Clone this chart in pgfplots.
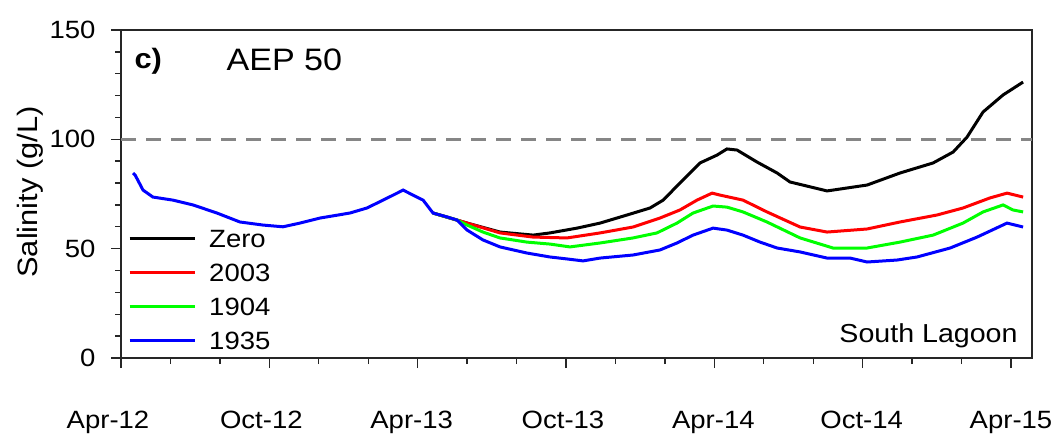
\documentclass[border=0pt]{standalone}
\usepackage{fontspec}
\setmainfont[FakeStretch=1.1]{Liberation Sans}
\usepackage{pgfplots}
\pgfplotsset{compat=1.18}
\newcommand\ff{\fontsize{25bp}{29bp}\selectfont}
\begin{document}
\begin{tikzpicture}
\useasboundingbox (0,0) rectangle (1051bp,434bp);
\begin{axis}[
  at={(121bp,76bp)}, anchor=south west,
  scale only axis, width=911bp, height=328bp,
  xmin=0, xmax=36.85, ymin=0, ymax=150,
  axis line style={line width=1.6bp, black!85},
  xtick={0,6,12,18,24,30,36},
  xticklabels={Apr-12,Oct-12,Apr-13,Oct-13,Apr-14,Oct-14,Apr-15},
  minor xtick={2,4,8,10,14,16,20,22,26,28,32,34},
  ytick={0,50,100,150},
  minor ytick={10,20,30,40,60,70,80,90,110,120,130,140},
  xtick pos=bottom, ytick pos=left,
  tick align=outside,
  major tick length=10bp, minor tick length=6bp,
  every tick/.style={line width=1.4bp, black!85},
  tick label style={font=\ff},
  /pgf/number format/assume math mode=true,
  xticklabel style={anchor=north, yshift=-40bp, xshift={{-13,-8,-6,-3,-1,-1,0}[\ticknum]*1bp}},
  yticklabel style={anchor=east, xshift=-12bp},
  ylabel={Salinity (g/L)},
  ylabel style={font=\fontsize{28bp}{32bp}\selectfont, at={(axis description cs:-0.0999,0.506)}, anchor=center},
  legend cell align=left,
  legend style={draw=none, fill=none, at={(axis description cs:0.0066,0.402)}, anchor=north west, font=\ff, row sep=12bp, column sep=11bp, inner sep=1bp,
    nodes={inner sep=2bp, text height=18bp, text depth=0bp}},
  legend image code/.code={\draw[#1, line width=3bp] (0bp,0bp) -- (65bp,0bp);},
  every axis plot/.append style={line width=3bp},
  clip=true,
]
\addplot[gray!95, dash pattern=on 15bp off 10bp, line width=2.6bp, forget plot] coordinates {(0,100) (36.85,100)};
\addplot[black] coordinates {
(12.62,66.3) (14.00,61.7) (15.33,57.6) (16.67,56.2) (17.35,57.2) (18.45,59.4) (19.38,61.7) (20.47,65.4) (21.40,68.6) (21.93,72.2) (22.73,81.4) (23.42,89.2) (24.11,92.8) (24.51,95.6) (24.92,95.1) (25.73,89.6) (26.54,84.6) (27.06,80.5) (28.56,76.4) (30.18,79.1) (31.51,84.6) (32.85,89.2) (33.66,94.2) (34.22,101) (34.87,112.5) (35.68,120.3) (36.49,126.2)
};
\addlegendentry{Zero}
\addplot[red] coordinates {
(12.62,66.3) (14.00,61.7) (15.33,57.2) (16.67,55.3) (18.04,54.9) (19.38,57.2) (20.71,59.9) (21.80,64) (22.61,67.7) (23.30,72.2) (23.91,75.4) (24.23,74.5) (25.16,72.2) (26.13,66.8) (27.47,59.9) (28.56,57.6) (30.18,59) (31.51,62.2) (33.01,65.4) (34.06,68.6) (35.15,73.2) (35.84,75.4) (36.49,73.6)
};
\addlegendentry{2003}
\addplot[green] coordinates {
(12.62,66.3) (13.59,63.1) (14.00,60.8) (14.64,57.6) (15.33,54.9) (16.42,53) (17.35,52.1) (18.16,50.8) (19.38,52.6) (20.71,54.9) (21.68,57.2) (22.49,61.7) (23.14,66.3) (23.95,69.5) (24.51,69) (25.16,66.8) (26.13,62.2) (27.47,54.9) (28.80,50.3) (30.18,50.3) (31.51,53) (32.85,56.2) (34.06,61.7) (34.87,66.8) (35.68,70) (36.08,67.7) (36.49,66.8)
};
\addlegendentry{1904}
\addplot[blue] coordinates {
(0.49,84.6) (0.57,83.7) (0.89,76.8) (1.29,73.6) (2.10,72.2) (2.91,70) (3.88,66.3) (4.81,62.2) (5.74,60.8) (6.55,60) (7.24,61.7) (8.05,64) (9.26,66.3) (9.95,68.6) (10.60,72.2) (11.17,75.4) (11.41,76.8) (11.81,74.5) (12.22,72.2) (12.62,66.3) (13.19,64.5) (13.59,63.1) (14.00,58.5) (14.64,54) (15.33,50.8) (16.42,48) (17.35,46.2) (18.04,45.3) (18.69,44.4) (19.38,45.7) (20.71,47.1) (21.80,49.4) (22.49,52.6) (23.14,56.2) (23.95,59.4) (24.51,58.5) (25.16,56.2) (25.85,53) (26.54,50.3) (27.47,48.5) (28.56,45.7) (29.49,45.7) (30.18,43.9) (31.39,44.8) (32.20,46.2) (33.54,50.3) (34.63,55.3) (35.84,61.7) (36.49,59.9)
};
\addlegendentry{1935}
\node[anchor=west, font=\fontsize{28bp}{30bp}\selectfont\bfseries] at (axis description cs:0.011,0.905) {c)};
\node[anchor=west, font=\fontsize{31bp}{34bp}\selectfont] at (axis description cs:0.112,0.91) {AEP 50};
\node[anchor=east, font=\fontsize{26bp}{30bp}\selectfont] at (axis description cs:0.988,0.068) {South Lagoon};
\end{axis}
\end{tikzpicture}
\end{document}
